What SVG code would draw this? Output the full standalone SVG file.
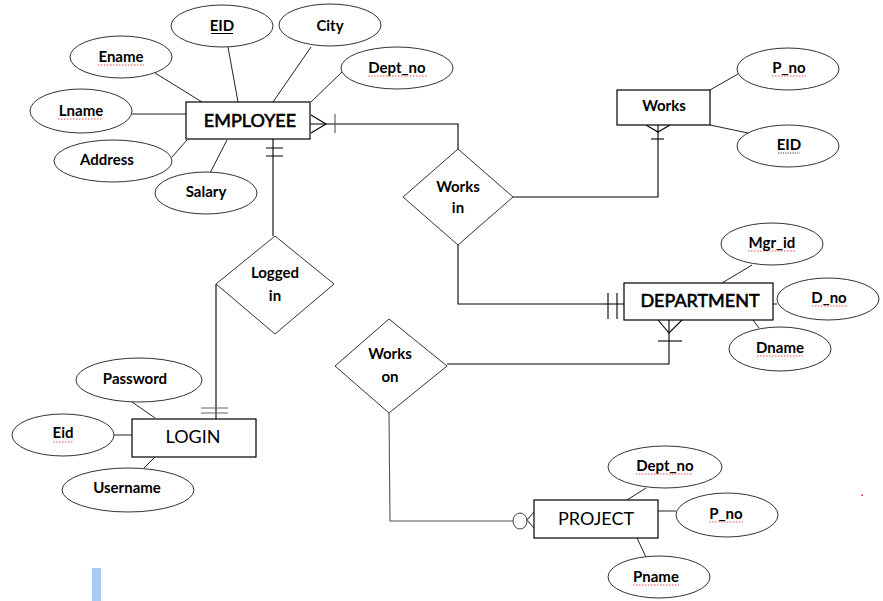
<svg xmlns="http://www.w3.org/2000/svg" width="883" height="601" viewBox="0 0 883 601">
<style>
.ent{fill:#fff;stroke:#000;stroke-width:1.2}
.att{fill:#fff;stroke:#333;stroke-width:1}
.rel{fill:#fff;stroke:#333;stroke-width:1}
.t{font-family:Lato,"Liberation Sans",sans-serif;font-weight:700;font-size:15px;fill:#000;text-anchor:middle}
.et{font-family:Lato,"Liberation Sans",sans-serif;font-size:18px;fill:#000;text-anchor:middle}
.b{stroke:#000;stroke-width:0.6}
.ln{stroke:#000;stroke-width:1.1;fill:none}
.al{stroke:#222;stroke-width:1;fill:none}
.sp{stroke:#e02020;stroke-width:0.8;fill:none;stroke-dasharray:1.5 1.5}
</style>
<rect width="883" height="601" fill="#fff"/>

<g id="connectors">
  <!-- EMPLOYEE - Works in -->
  <path class="ln" d="M310,124 H458 V149"/>
  <path class="ln" d="M311,115 L326,124 L311,133"/>
  <path class="ln" stroke-width="1.6" d="M335,114 V133" style="stroke:#555"/>
  <!-- Works in - Works -->
  <path class="ln" d="M513,197 H658 V125"/>
  <path class="ln" d="M646,125 L658,132 L670,125"/>
  <path class="ln" d="M651,139 H664"/>
  <!-- Works in - DEPARTMENT -->
  <path class="ln" d="M458,245 V304 H624"/>
  <path class="ln" d="M608,293 V319 M617,293 V319"/>
  <!-- EMPLOYEE - Logged in -->
  <path class="ln" d="M273,139 V236"/>
  <path class="ln" d="M266,148 H283 M266,156 H283"/>
  <!-- Logged in - LOGIN -->
  <path class="ln" d="M216,284 V419"/>
  <path class="ln" d="M201,408 H228 M201,413 H228" style="stroke:#666"/>
  <!-- DEPARTMENT - Works on -->
  <path class="ln" d="M669,320 V364 H447"/>
  <path class="ln" d="M658,320 L669,333 L682,320"/>
  <path class="ln" d="M658,341 H682"/>
  <!-- Works on - PROJECT -->
  <path class="ln" d="M389,413 L390,521 H513" style="stroke:#555"/>
  <ellipse cx="520" cy="521" rx="7" ry="8" fill="#fff" stroke="#444"/>
  <path class="ln" d="M534,512 L527,520 L534,528" style="stroke:#444"/>
  <!-- attribute lines -->
  <path class="al" d="M155,73 L202,102 M228,47 L238,102 M311,47 L273,102 M342,72 L311,102 M132,114 H186 M172,157 L187,140 M210,173 L227,140"/>
  <path class="al" d="M710,90 L738,74 M710,125 L748,133"/>
  <path class="al" d="M752,265 L722,283 M773,304 H777 M753,320 L759,328"/>
  <path class="al" d="M132,402 L155,418 M114,435 H132 M155,457 L144,468"/>
  <path class="al" d="M646,488 L627,500 M658,511 H676 M637,538 L646,557"/>
</g>

<g id="EMPLOYEE">
  <rect class="ent" x="186" y="102" width="124" height="37"/>
  <text class="et b" x="250" y="127">EMPLOYEE</text>
</g>
<g id="EID">
  <ellipse class="att" cx="222" cy="26" rx="51" ry="21"/>
  <text class="t" x="222" y="31">EID</text>
  <path d="M211,33.5 H233" stroke="#000" stroke-width="1"/>
</g>
<g id="City">
  <ellipse class="att" cx="330" cy="25" rx="51" ry="21"/>
  <text class="t" x="330" y="31">City</text>
</g>
<g id="Ename">
  <ellipse class="att" cx="121" cy="57" rx="51" ry="21"/>
  <text class="t" x="121" y="62">Ename</text>
  <path class="sp" d="M98,65 H144"/>
</g>
<g id="Dept_no">
  <ellipse class="att" cx="397" cy="68" rx="56" ry="21"/>
  <text class="t" x="397" y="73">Dept_no</text>
  <path class="sp" d="M368,76 H427"/>
</g>
<g id="Lname">
  <ellipse class="att" cx="81" cy="111" rx="51" ry="22"/>
  <text class="t" x="81" y="116">Lname</text>
  <path class="sp" d="M58,119 H103"/>
</g>
<g id="Address">
  <ellipse class="att" cx="113" cy="161" rx="59" ry="21"/>
  <text class="t" x="107" y="165">Address</text>
</g>
<g id="Salary">
  <ellipse class="att" cx="206" cy="193" rx="51" ry="21"/>
  <text class="t" x="206" y="197">Salary</text>
</g>

<g id="Works_in">
  <polygon class="rel" points="458,149 513,197 458,245 403,197"/>
  <text class="t" x="458" y="192">Works</text>
  <text class="t" x="458" y="213">in</text>
</g>

<g id="Works">
  <rect class="ent" x="617" y="90" width="93" height="35"/>
  <text class="t" x="664" y="111">Works</text>
</g>
<g id="P_no_works">
  <ellipse class="att" cx="788" cy="69" rx="51" ry="21"/>
  <text class="t" x="789" y="73">P_no</text>
  <path class="sp" d="M772,76 H806"/>
</g>
<g id="EID_works">
  <ellipse class="att" cx="788" cy="146" rx="51" ry="21"/>
  <text class="t" x="789" y="150">EID</text>
  <path d="M778,153 H800" stroke="#000" stroke-width="0.8" stroke-dasharray="1.2 1.2"/>
</g>

<g id="DEPARTMENT">
  <rect class="ent" x="624" y="283" width="149" height="37"/>
  <text class="et b" x="700" y="307">DEPARTMENT</text>
</g>
<g id="Mgr_id">
  <ellipse class="att" cx="772" cy="244" rx="51" ry="21"/>
  <text class="t" x="772" y="248">Mgr_id</text>
  <path class="sp" d="M748,251 H796"/>
</g>
<g id="D_no">
  <ellipse class="att" cx="828" cy="299" rx="51" ry="21"/>
  <text class="t" x="829" y="303">D_no</text>
  <path class="sp" d="M812,306 H847"/>
</g>
<g id="Dname">
  <ellipse class="att" cx="780" cy="349" rx="51" ry="22"/>
  <text class="t" x="780" y="353">Dname</text>
  <path class="sp" d="M757,356 H803"/>
</g>

<g id="Logged_in">
  <polygon class="rel" points="275,236 334,284 275,334 216,284"/>
  <text class="t" x="275" y="278">Logged</text>
  <text class="t" x="275" y="301">in</text>
</g>

<g id="LOGIN">
  <rect class="ent" x="132" y="419" width="124" height="38"/>
  <text class="et" x="193" y="443">LOGIN</text>
</g>
<g id="Password">
  <ellipse class="att" cx="139" cy="380" rx="63" ry="22"/>
  <text class="t" x="135" y="384">Password</text>
</g>
<g id="Eid">
  <ellipse class="att" cx="63" cy="435" rx="51" ry="21"/>
  <text class="t" x="63" y="438">Eid</text>
  <path class="sp" d="M53,442 H73"/>
</g>
<g id="Username">
  <ellipse class="att" cx="128" cy="490" rx="66" ry="22"/>
  <text class="t" x="127" y="493">Username</text>
</g>

<g id="Works_on">
  <polygon class="rel" points="389,319 447,366 389,413 335,366"/>
  <text class="t" x="390" y="359">Works</text>
  <text class="t" x="390" y="382">on</text>
</g>

<g id="PROJECT">
  <rect class="ent" x="534" y="500" width="124" height="38"/>
  <text class="et" x="596" y="525">PROJECT</text>
</g>
<g id="Dept_no_proj">
  <ellipse class="att" cx="665" cy="467" rx="57" ry="21"/>
  <text class="t" x="665" y="471">Dept_no</text>
  <path class="sp" d="M636,474 H693"/>
</g>
<g id="P_no_proj">
  <ellipse class="att" cx="727" cy="515" rx="51" ry="22"/>
  <text class="t" x="726" y="519">P_no</text>
  <path class="sp" d="M709,522 H743"/>
</g>
<g id="Pname">
  <ellipse class="att" cx="659" cy="577" rx="51" ry="21"/>
  <text class="t" x="656" y="582">Pname</text>
  <path class="sp" d="M633,585 H679"/>
</g>

<rect x="92" y="568" width="9" height="33" fill="#a9cdf0"/>
<rect x="861.5" y="494.5" width="1.5" height="1.5" fill="#e02020"/>
</svg>
